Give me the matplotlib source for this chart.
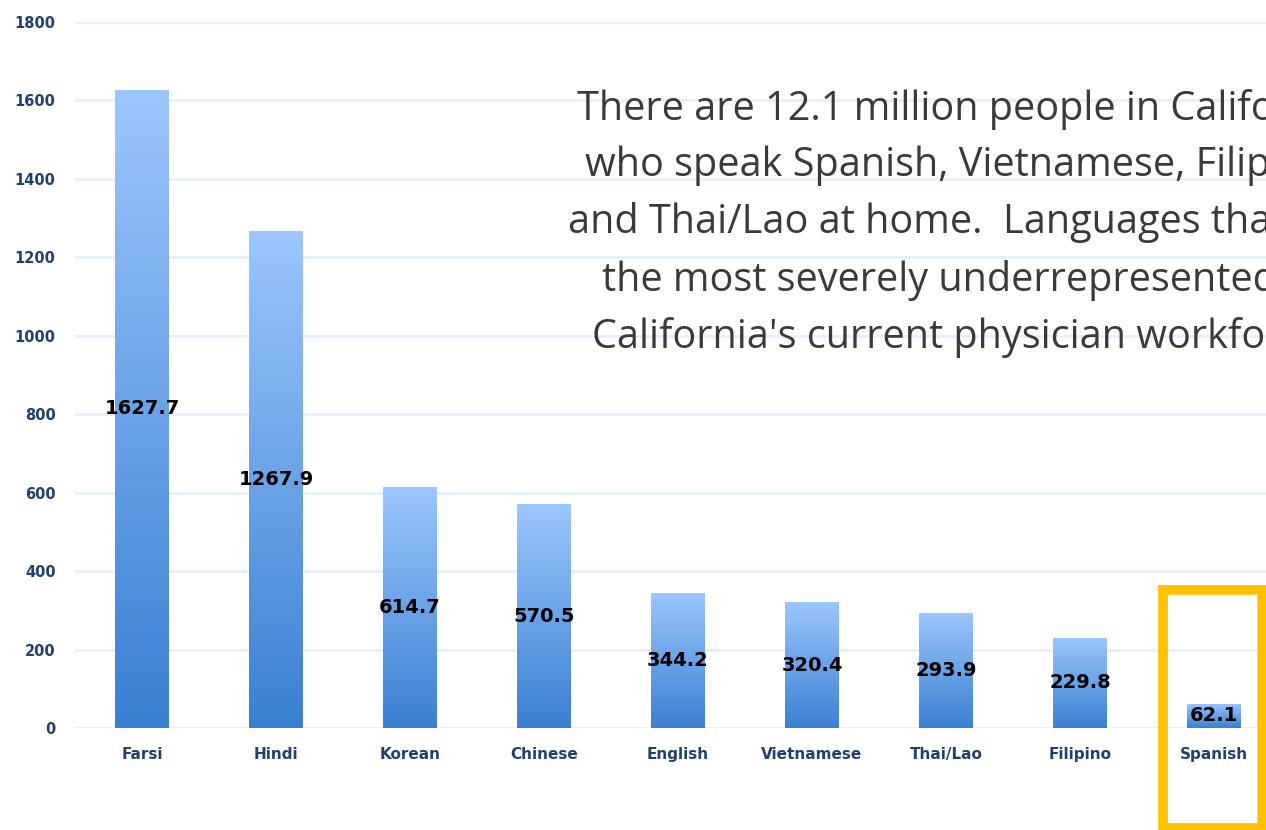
import matplotlib.pyplot as plt
import numpy as np
from matplotlib.colors import LinearSegmentedColormap
from matplotlib.patches import FancyBboxPatch

languages = ["Farsi", "Hindi", "Korean", "Chinese", "English",
             "Vietnamese", "Thai/Lao", "Filipino", "Spanish"]
values = [1627.7, 1267.9, 614.7, 570.5, 344.2, 320.4, 293.9, 229.8, 62.1]
yticks = [0, 200, 400, 600, 800, 1000, 1200, 1400, 1600, 1800]

note = ("There are 12.1 million people in California\n"
        "who speak Spanish, Vietnamese, Filipino,\n"
        "and Thai/Lao at home.  Languages that are\n"
        "the most severely underrepresented in\n"
        "California's current physician workforce.")

navy = "#21406e"
grad = LinearSegmentedColormap.from_list("bluegrad", ["#3a80d2", "#9cc6fd"])

fig = plt.figure(figsize=(12.66, 8.3), dpi=100)
ax = fig.add_axes([0.0592, 0.1229, 0.9526, 0.8506])

x = np.arange(len(languages))
bars = ax.bar(x, values, width=0.40, color="none", edgecolor="none", zorder=2)

# vertical gradient inside each bar
ramp = np.linspace(0, 1, 256).reshape(-1, 1)
for bar, val in zip(bars, values):
    x0 = bar.get_x()
    w = bar.get_width()
    im = ax.imshow(ramp, extent=[x0, x0 + w, 0, val], origin="lower",
                   aspect="auto", cmap=grad, zorder=2)
    im.set_clip_path(bar)
    ax.text(x0 + w / 2, val / 2, f"{val}", ha="center", va="center",
            fontsize=14, fontweight="heavy", color="black", zorder=3)

ax.set_xlim(-0.5, len(languages) - 0.5)
ax.set_ylim(0, 1800)
ax.set_yticks(yticks)
ax.set_xticks(x)
ax.set_xticklabels(languages)
ax.tick_params(axis="both", length=0, labelcolor=navy)
ax.tick_params(axis="y", pad=14, labelsize=10.5)
ax.tick_params(axis="x", pad=14, labelsize=11)
for lbl in ax.get_xticklabels() + ax.get_yticklabels():
    lbl.set_fontweight("bold")

ax.grid(axis="y", color="#e8eff9", linewidth=2)
ax.set_axisbelow(True)
for s in ax.spines.values():
    s.set_visible(False)

# highlight box around Spanish
box = FancyBboxPatch((7.62, -255), 0.74, 607,
                     boxstyle="round,pad=0,rounding_size=0.03",
                     fill=False, edgecolor="#ffc000", linewidth=7,
                     clip_on=False, zorder=4)
ax.add_patch(box)

fig.text(0.76, 1 - 89 / 830, note, ha="center", va="top",
         multialignment="center", fontsize=28.5, family="Open Sans",
         color="#3a3a3a", linespacing=1.52)

fig.savefig("out.png", dpi=100)
